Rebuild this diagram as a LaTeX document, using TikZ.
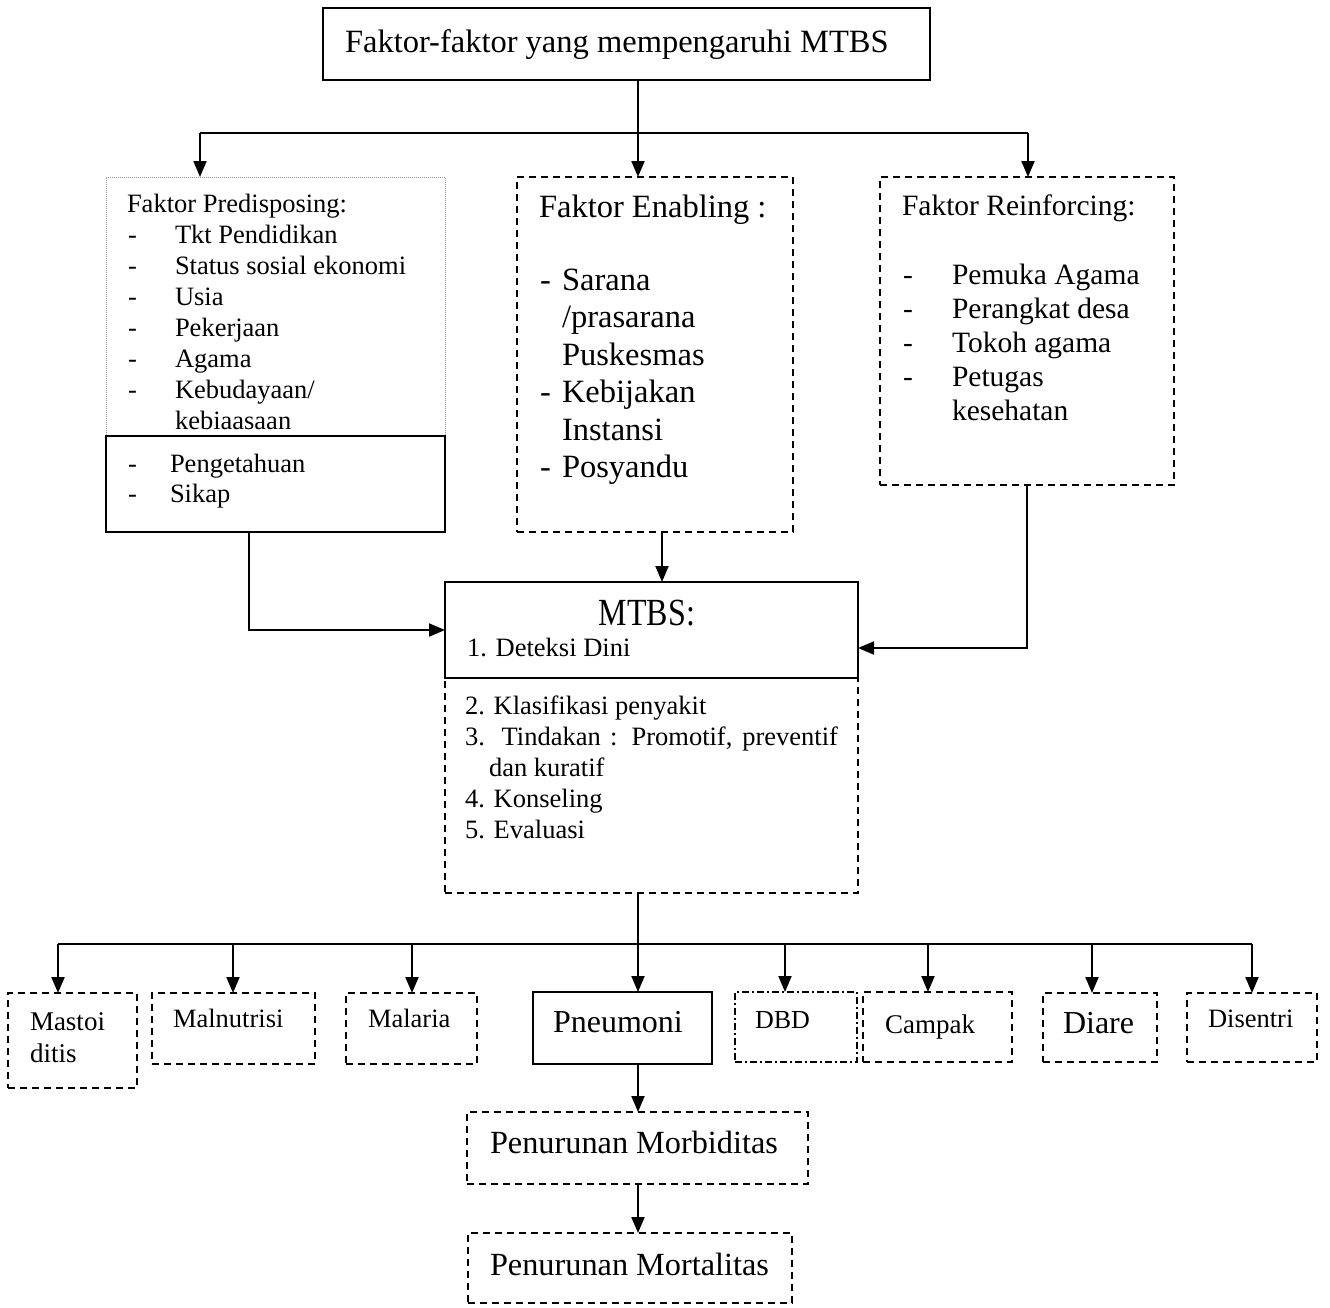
\documentclass[tikz,border=0pt]{standalone}
\usepackage{fontspec}
\setmainfont{Liberation Serif}
\usepackage{graphicx}
\usetikzlibrary{arrows.meta}
\newcommand\myfs[1]{\fontsize{#1pt}{#1pt}\selectfont}
\newcommand\mkbox[6]{\node[#2,anchor=north west,minimum width={#5pt-#3pt},minimum height={#6pt-#4pt}] (#1) at (#3,#4) {};}
\newcommand\T[5]{\node[txt,font=\myfs{#4}] (#1) at (#2,#3) {#5};}
\begin{document}
\begin{tikzpicture}[x=1pt,y=-1pt,
  solidbox/.style={draw,line width=2pt,inner sep=0pt,outer sep=0pt},
  dashbox/.style={draw,line width=2.2pt,dash pattern=on 7pt off 5pt,inner sep=0pt,outer sep=0pt},
  dotbox/.style={draw=gray!80,line width=1pt,dash pattern=on 1pt off 1pt,inner sep=0pt,outer sep=0pt},
  dashdotbox/.style={draw,line width=2pt,dash pattern=on 7pt off 3pt on 2pt off 3pt,inner sep=0pt,outer sep=0pt},
  txt/.style={anchor=base west,inner sep=0pt,outer sep=0pt},
  conn/.style={line width=2pt},
  arr/.style={line width=2pt,-{Triangle[length=16pt,width=13pt]}}]
\useasboundingbox (0,0) rectangle (1330,1307);
% ---------- boxes ----------
\mkbox{title}{solidbox}{323}{8}{930}{80}
\mkbox{predU}{dotbox}{106}{177}{445}{436}
\mkbox{predL}{solidbox}{106}{436}{445}{532}
\mkbox{enab}{dashbox}{517}{177}{793}{532}
\mkbox{reinf}{dashbox}{880}{177}{1174}{485}
\mkbox{mtbsL}{dashbox}{445}{678}{858}{893}
\mkbox{mtbsU}{solidbox}{445}{582}{858}{678}
\mkbox{mast}{dashbox}{8}{993}{137}{1088}
\mkbox{maln}{dashbox}{152}{993}{315}{1064}
\mkbox{mala}{dashbox}{346}{993}{477}{1064}
\mkbox{pneu}{solidbox}{533}{992}{712}{1064}
\mkbox{dbd}{dashdotbox}{735}{992}{857}{1062}
\mkbox{camp}{dashbox}{863}{992}{1012}{1062}
\mkbox{diar}{dashbox}{1043}{993}{1157}{1062}
\mkbox{dise}{dashbox}{1187}{993}{1317}{1062}
\mkbox{morb}{dashbox}{467}{1112}{808}{1184}
\mkbox{mort}{dashbox}{468}{1233}{792}{1303}
% ---------- texts ----------
\T{ttl}{345}{52}{32.5}{Faktor-faktor yang mempengaruhi MTBS}
% predisposing
\T{p0}{127}{212}{26.5}{Faktor Predisposing:}
\T{pd1}{128}{243}{26.5}{-}\T{p1}{175}{243}{26.5}{Tkt Pendidikan}
\T{pd2}{128}{274}{26.5}{-}\T{p2}{175}{274}{26.5}{Status sosial ekonomi}
\T{pd3}{128}{305}{26.5}{-}\T{p3}{175}{305}{26.5}{Usia}
\T{pd4}{128}{336}{26.5}{-}\T{p4}{175}{336}{26.5}{Pekerjaan}
\T{pd5}{128}{367}{26.5}{-}\T{p5}{175}{367}{26.5}{Agama}
\T{pd6}{128}{398}{26.5}{-}\T{p6}{175}{398}{26.5}{Kebudayaan/}
\T{p7}{175}{429}{26.5}{kebiaasaan}
\T{pd8}{128}{472}{26.5}{-}\T{p8}{170}{472}{26.5}{Pengetahuan}
\T{pd9}{128}{502}{26.5}{-}\T{p9}{170}{502}{26.5}{Sikap}
% enabling
\T{e0}{539}{217}{32.5}{Faktor Enabling :}
\T{ed1}{540}{290}{32.5}{-}\T{e1}{562}{290}{32.5}{Sarana}
\T{e2}{562}{327}{32.5}{/prasarana}
\T{e3}{562}{365}{32.5}{Puskesmas}
\T{ed4}{540}{402}{32.5}{-}\T{e4}{562}{402}{32.5}{Kebijakan}
\T{e5}{562}{440}{32.5}{Instansi}
\T{ed6}{540}{477}{32.5}{-}\T{e6}{562}{477}{32.5}{Posyandu}
% reinforcing
\T{r0}{902}{215}{29.5}{Faktor Reinforcing:}
\T{rd1}{903}{284}{29.5}{-}\T{r1}{952}{284}{29.5}{Pemuka Agama}
\T{rd2}{903}{318}{29.5}{-}\T{r2}{952}{318}{29.5}{Perangkat desa}
\T{rd3}{903}{352}{29.5}{-}\T{r3}{952}{352}{29.5}{Tokoh agama}
\T{rd4}{903}{386}{29.5}{-}\T{r4}{952}{386}{29.5}{Petugas}
\T{r5}{952}{420}{29.5}{kesehatan}
% MTBS
\node[anchor=base,inner sep=0pt,font=\myfs{32}] (mh) at (647,625) {\scalebox{1}[1.2]{MTBS:}};
\T{m1}{467}{656}{26.5}{1. Deteksi Dini}
\T{m2}{465}{714}{26.5}{2. Klasifikasi penyakit}
\T{m3}{465}{745}{26.5}{\makebox[373pt][s]{3. Tindakan : Promotif, preventif}}
\T{m3b}{489}{776}{26.5}{dan kuratif}
\T{m4}{465}{807}{26.5}{4. Konseling}
\T{m5}{465}{838}{26.5}{5. Evaluasi}
% bottom row
\T{tmast}{30}{1030}{27}{Mastoi}
\T{tmast2}{30}{1062}{27}{ditis}
\T{tmaln}{173}{1027}{26.5}{Malnutrisi}
\T{tmala}{368}{1027}{26.5}{Malaria}
\T{tpneu}{553}{1032}{32}{Pneumoni}
\T{tdbd}{755}{1028}{26}{DBD}
\T{tcamp}{885}{1033}{27}{Campak}
\T{tdiar}{1063}{1033}{32}{Diare}
\T{tdise}{1208}{1027}{26.5}{Disentri}
\T{tmorb}{490}{1153}{32.3}{Penurunan Morbiditas}
\T{tmort}{490}{1275}{32.3}{Penurunan Mortalitas}
% ---------- connectors ----------
\coordinate (tb) at (638,133);
\coordinate (bL) at (200,133);
\coordinate (bR) at (1028,133);
\draw[conn] (tb |- title.south) -- (tb);
\draw[conn] (bL) -- (bR);
\draw[arr] (bL) -- (bL |- predU.north);
\draw[arr] (tb) -- (tb |- enab.north);
\draw[arr] (bR) -- (bR |- reinf.north);
\coordinate (ec) at (662,560);
\draw[arr] (ec |- enab.south) -- (ec |- mtbsU.north);
\coordinate (pc) at (249,630);
\draw[arr] (pc |- predL.south) -- (pc) -- (mtbsU.west |- pc);
\coordinate (rc) at (1027,648);
\draw[arr] (rc |- reinf.south) -- (rc) -- (mtbsU.east |- rc);
\coordinate (m0) at (638,944);
\draw[conn] (m0 |- mtbsL.south) -- (m0);
\coordinate (aL) at (58,944);
\coordinate (aR) at (1252,944);
\draw[conn] (aL) -- (aR);
\foreach \x/\n in {58/mast,233/maln,412/mala,638/pneu,785/dbd,928/camp,1092/diar,1252/dise}{
  \coordinate (a\n) at (\x,944);
  \draw[arr] (a\n) -- (a\n |- \n.north);
}
\draw[arr] (m0 |- pneu.south) -- (m0 |- morb.north);
\draw[arr] (m0 |- morb.south) -- (m0 |- mort.north);
\end{tikzpicture}
\end{document}
